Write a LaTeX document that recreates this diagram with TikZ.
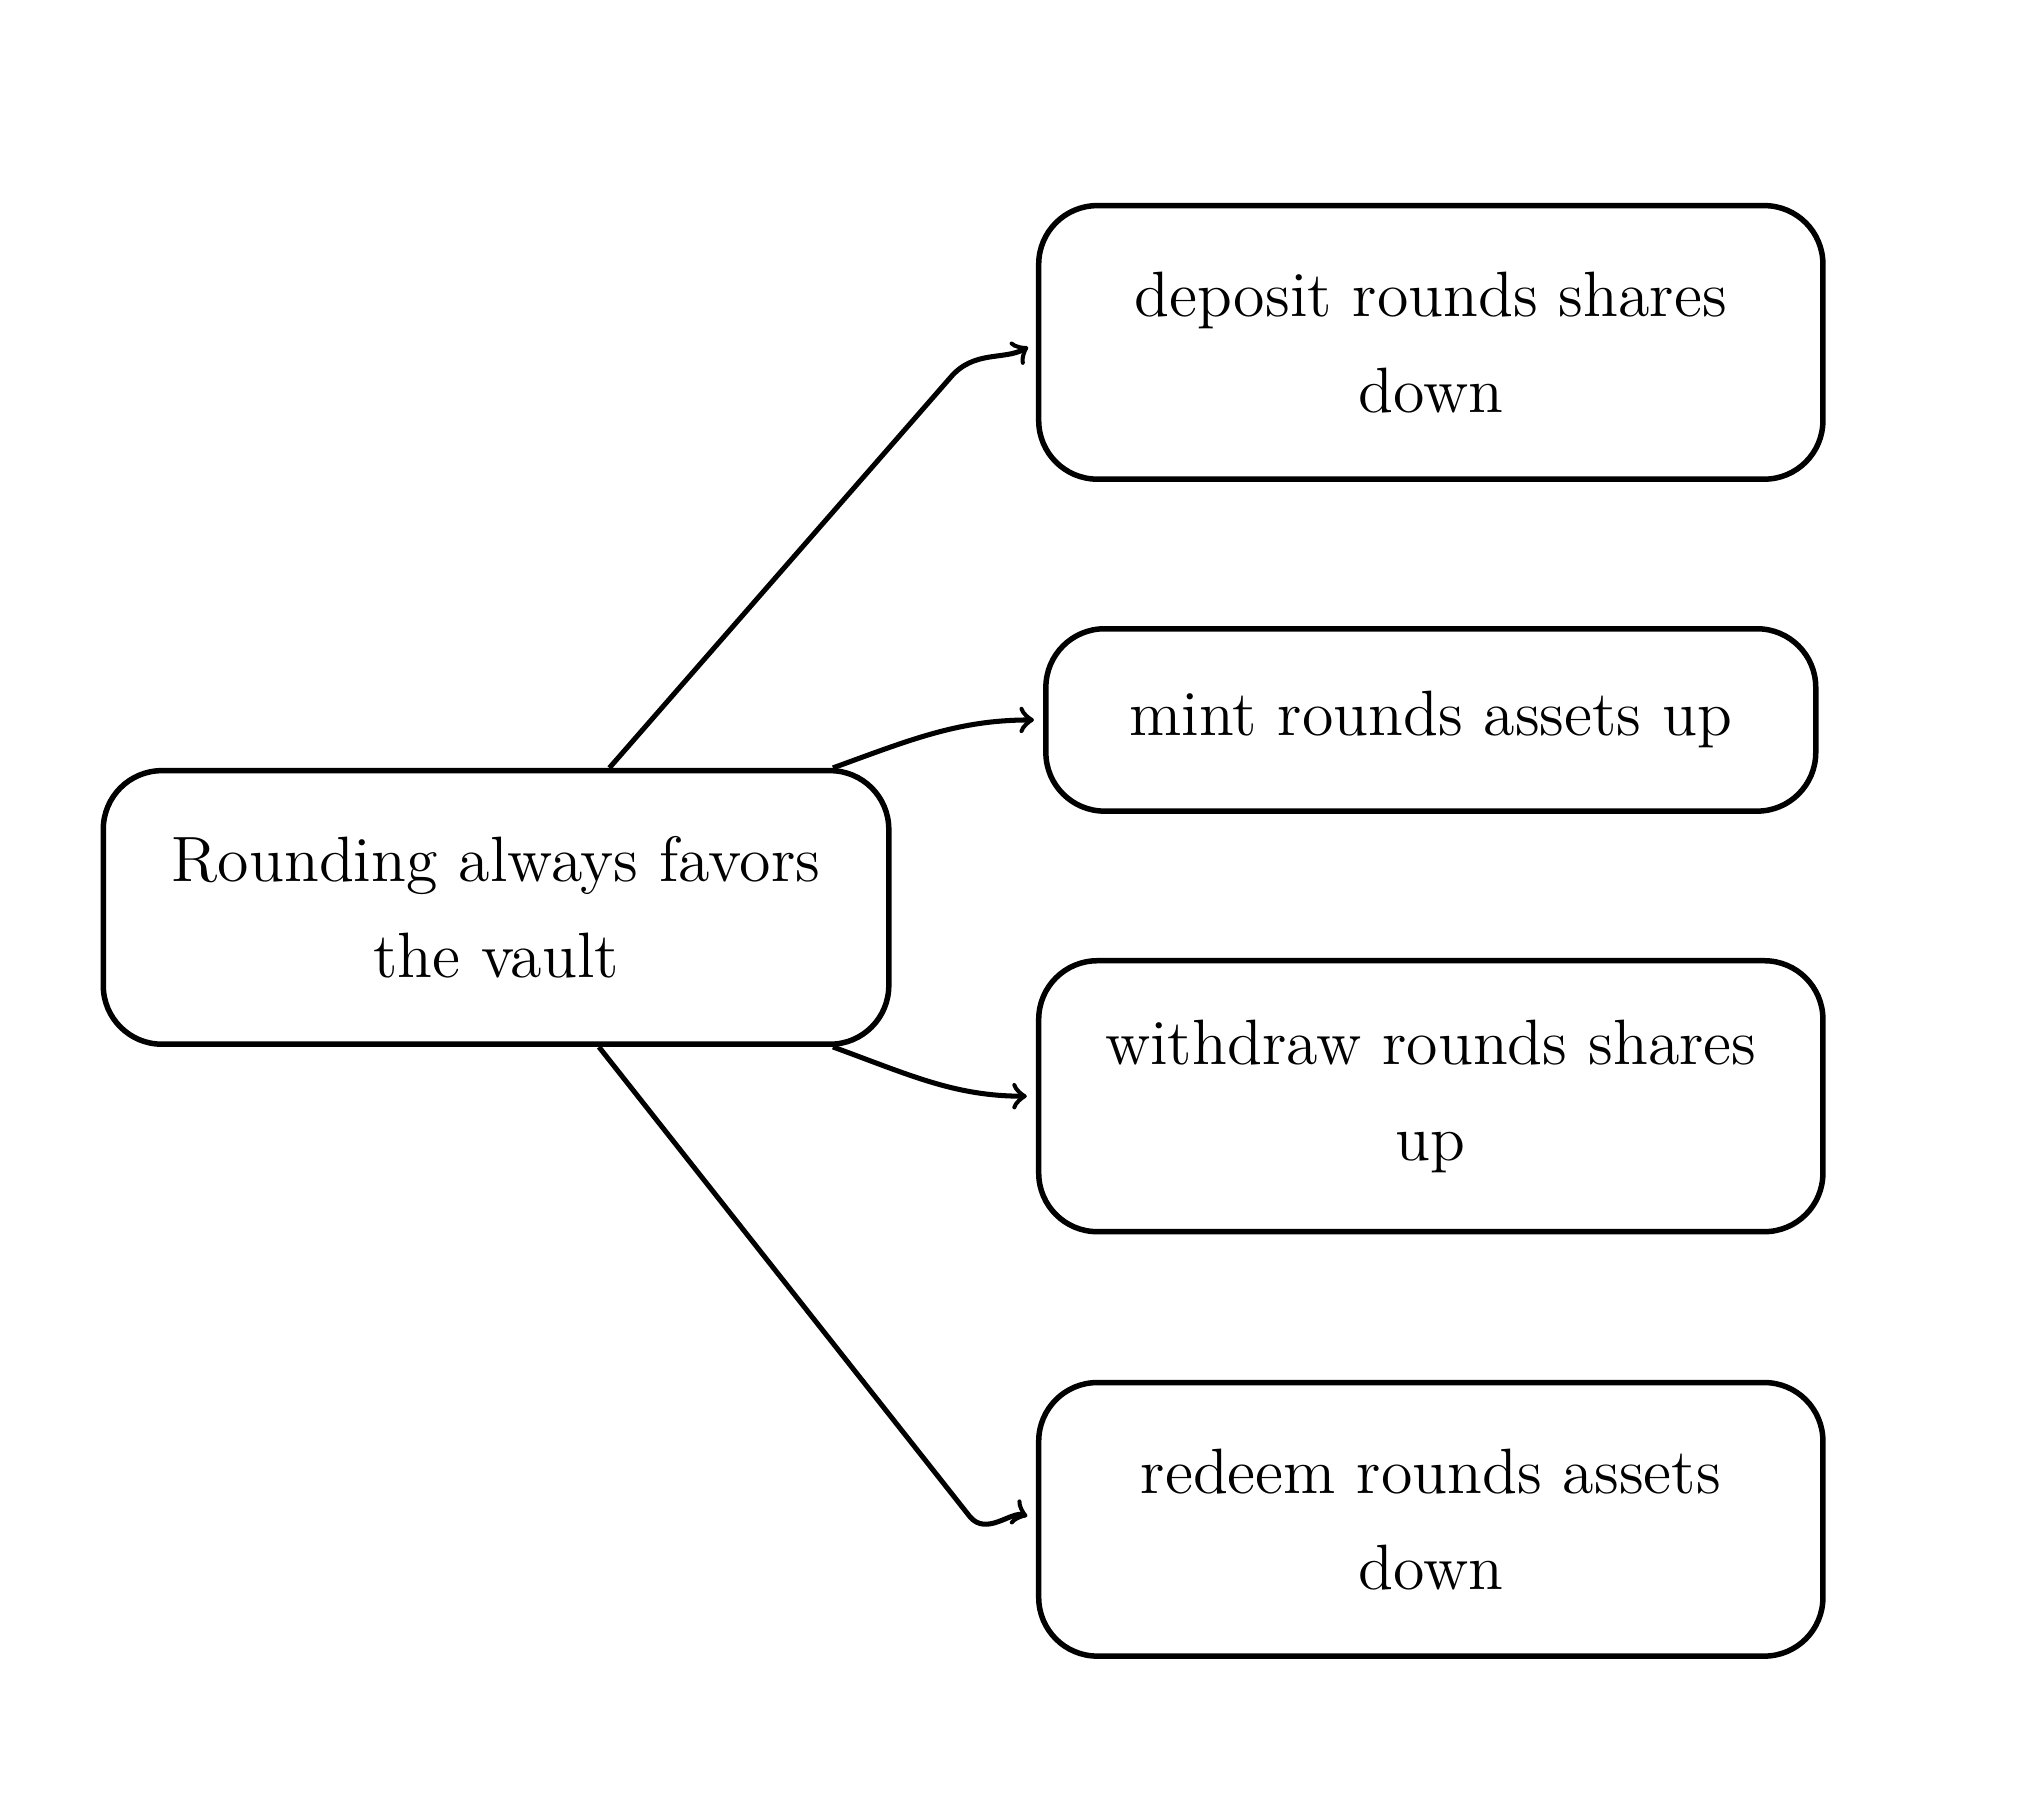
\documentclass[tikz,border=0pt]{standalone}
\usepackage{tikz}
\usetikzlibrary{positioning,arrows}

\begin{document}
\begin{tikzpicture}[x=0.01cm, y=-0.01cm,
  box/.style={draw, very thick, rounded corners=0.45cm, align=center,
    font=\fontsize{14}{21}\selectfont, inner sep=0pt},
  link/.style={line width=1.1pt, ->, >=to, shorten >=2pt}]
  \useasboundingbox (0,0) rectangle (1560,1395);

  % central statement
  \node [box, minimum width=6.03cm, minimum height=2.1cm] (vault) at (381,697)
    {Rounding always favors\\the vault};

  % the four operations
  \node [box, minimum width=6.02cm, minimum height=2.1cm] (deposit) at (1099,263)
    {deposit rounds shares\\down};
  \node [box, minimum width=5.91cm, minimum height=1.4cm] (mint) at (1099,553)
    {mint rounds assets up};
  \node [box, minimum width=6.02cm, minimum height=2.08cm] (withdraw) at (1099,842)
    {withdraw rounds shares\\up};
  \node [box, minimum width=6.02cm, minimum height=2.1cm] (redeem) at (1099,1167)
    {redeem rounds assets\\down};

  % connectors
  \draw [link] ([xshift=0.87cm]vault.north) -- (730,290)
    to[out=50, in=-150] (deposit.west);
  \draw [link] ([xshift=-0.45cm]vault.north east) to[out=20, in=180] (mint.west);
  \draw [link] ([xshift=-0.45cm]vault.south east) to[out=-20, in=180] (withdraw.west);
  \draw [link] ([xshift=0.79cm]vault.south) -- (745,1165)
    to[out=-50, in=160] (redeem.west);
\end{tikzpicture}
\end{document}
